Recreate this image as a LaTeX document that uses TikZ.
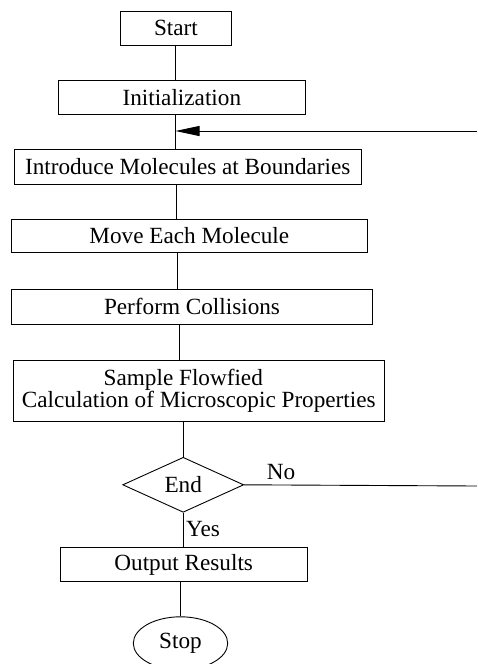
\documentclass[tikz,border=0pt]{standalone}
\usepackage{fontspec}
\setmainfont{Liberation Serif}
\usetikzlibrary{shapes.geometric,arrows.meta}
\begin{document}
\begin{tikzpicture}[x=1pt,y=-1pt,
  every node/.style={font=\fontsize{23.2}{22}\selectfont, inner sep=0pt},
  box/.style={draw, line width=0.9pt, rectangle},
  conn/.style={line width=0.9pt}]
\useasboundingbox (0,0) rectangle (477,664);
\begin{scope}
\clip (0,0) rectangle (477,664);
\node[box, minimum width=110.6pt, minimum height=33.3pt] (start) at (176,28.3) {Start};
\node[box, minimum width=247pt, minimum height=33.7pt] (init) at (181.8,97.2) {Initialization};
\node[box, minimum width=346.7pt, minimum height=34.7pt] (intro) at (187.7,166.7) {Introduce Molecules at Boundaries};
\node[box, minimum width=355.3pt, minimum height=33.3pt] (move) at (189.3,235.7) {Move Each Molecule};
\node[box, minimum width=361.3pt, minimum height=34.7pt] (perf) at (192,306.7) {Perform Collisions};
\node[box, minimum width=371pt, minimum height=61pt, align=center] (samp) at (198.8,391.2) {Sample Flowfied\hspace*{31pt}\\Calculation of Microscopic Properties};
\node[draw, line width=0.9pt, diamond, aspect=2.2, minimum width=121pt, minimum height=55pt] (end) at (183.2,484.8) {End};
\node[box, minimum width=247.3pt, minimum height=34.3pt] (out) at (183.7,564.5) {Output Results};
\node[draw, line width=0.9pt, ellipse, minimum width=94.4pt, minimum height=53pt] (stop) at (180.5,643.3) {Stop};

\coordinate (fbR) at (477,131);
\coordinate (noR) at (477,486);

\draw[conn] (start.south -| 175.5,0) -- (init.north -| 175.5,0);
\draw[conn] (init.south -| 175.5,0) -- (intro.north -| 175.5,0);
\draw[conn] (intro.south -| 176,0) -- (move.north -| 176,0);
\draw[conn] (move.south -| 177.3,0) -- (perf.north -| 177.3,0);
\draw[conn] (perf.south -| 179.3,0) -- (samp.north -| 179.3,0);
\draw[conn] (samp.south -| end.north) -- (end.north);
\draw[conn] (end.south) -- (out.north -| end.south);
\draw[conn] (out.south -| stop.north) -- (stop.north);

\draw[conn, -{Triangle[length=24pt,width=10pt]}] (fbR) -- (fbR -| 175.5,0);
\draw[conn] (end.east) -- (noR);

\node at (281,472) {No};
\node at (203,529) {Yes};
\end{scope}
\end{tikzpicture}
\end{document}
